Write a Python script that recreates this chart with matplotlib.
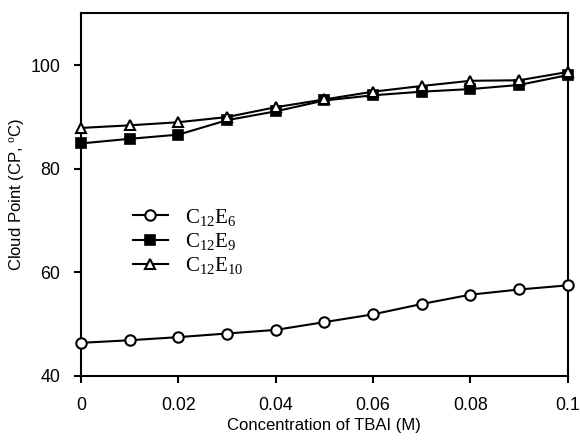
import matplotlib
matplotlib.use('Agg')
import matplotlib.pyplot as plt

plt.rcParams['font.family'] = ['Liberation Sans', 'DejaVu Sans']
plt.rcParams['mathtext.fontset'] = 'custom'
plt.rcParams['mathtext.rm'] = 'Liberation Serif'
plt.rcParams['mathtext.it'] = 'Liberation Serif:italic'

# TBAI concentration (M)
conc = [0, 0.01, 0.02, 0.03, 0.04, 0.05, 0.06, 0.07, 0.08, 0.09, 0.1]

# cloud points (deg C)
cp_e6 = [46.4, 46.9, 47.5, 48.2, 48.9, 50.4, 51.9, 53.9, 55.7, 56.7, 57.5]
cp_e9 = [84.9, 85.8, 86.6, 89.4, 91.1, 93.2, 94.2, 94.9, 95.4, 96.2, 98.1]
cp_e10 = [87.9, 88.4, 89.0, 90.0, 91.9, 93.4, 94.9, 96.0, 97.0, 97.1, 98.7]

labels = [r'$\mathrm{C_{12}E_{6}}$', r'$\mathrm{C_{12}E_{9}}$', r'$\mathrm{C_{12}E_{10}}$']
xticks = [0, 0.02, 0.04, 0.06, 0.08, 0.1]
xticklabels = ['0', '0.02', '0.04', '0.06', '0.08', '0.1']
yticks = [40, 60, 80, 100]

fig = plt.figure(figsize=(5.8, 4.46), dpi=100)
ax = fig.add_axes([0.1397, 0.157, 0.8393, 0.8128])

ax.plot(conc, cp_e6, '-o', color='black', mfc='white', mec='black', ms=7.5, mew=1.5, lw=1.5,
        label=labels[0], clip_on=False, zorder=3)
ax.plot(conc, cp_e9, '-s', color='black', mfc='black', mec='black', ms=7, mew=1.2, lw=1.5,
        label=labels[1], clip_on=False, zorder=3)
ax.plot(conc, cp_e10, '-^', color='black', mfc='white', mec='black', ms=7.5, mew=1.5, lw=1.5,
        label=labels[2], clip_on=False, zorder=4)

ax.set_xlim(0, 0.1)
ax.set_ylim(40, 110)
ax.set_xticks(xticks)
ax.set_xticklabels(xticklabels)
ax.set_yticks(yticks)
ax.tick_params(direction='out', length=5, width=1.5, labelsize=12.8, pad=10)
for s in ax.spines.values():
    s.set_linewidth(1.5)

ax.set_xlabel('Concentration of TBAI (M)', fontsize=12, labelpad=3)
ax.set_ylabel(r'Cloud Point (CP, $^{\rm o}$C)', fontsize=12, labelpad=3)

leg = ax.legend(loc='upper left', bbox_to_anchor=(0.089, 0.49), frameon=False,
                fontsize=15, handlelength=1.7, handletextpad=0.8, labelspacing=0.15,
                borderaxespad=0)

fig.savefig('out.png', dpi=100)
